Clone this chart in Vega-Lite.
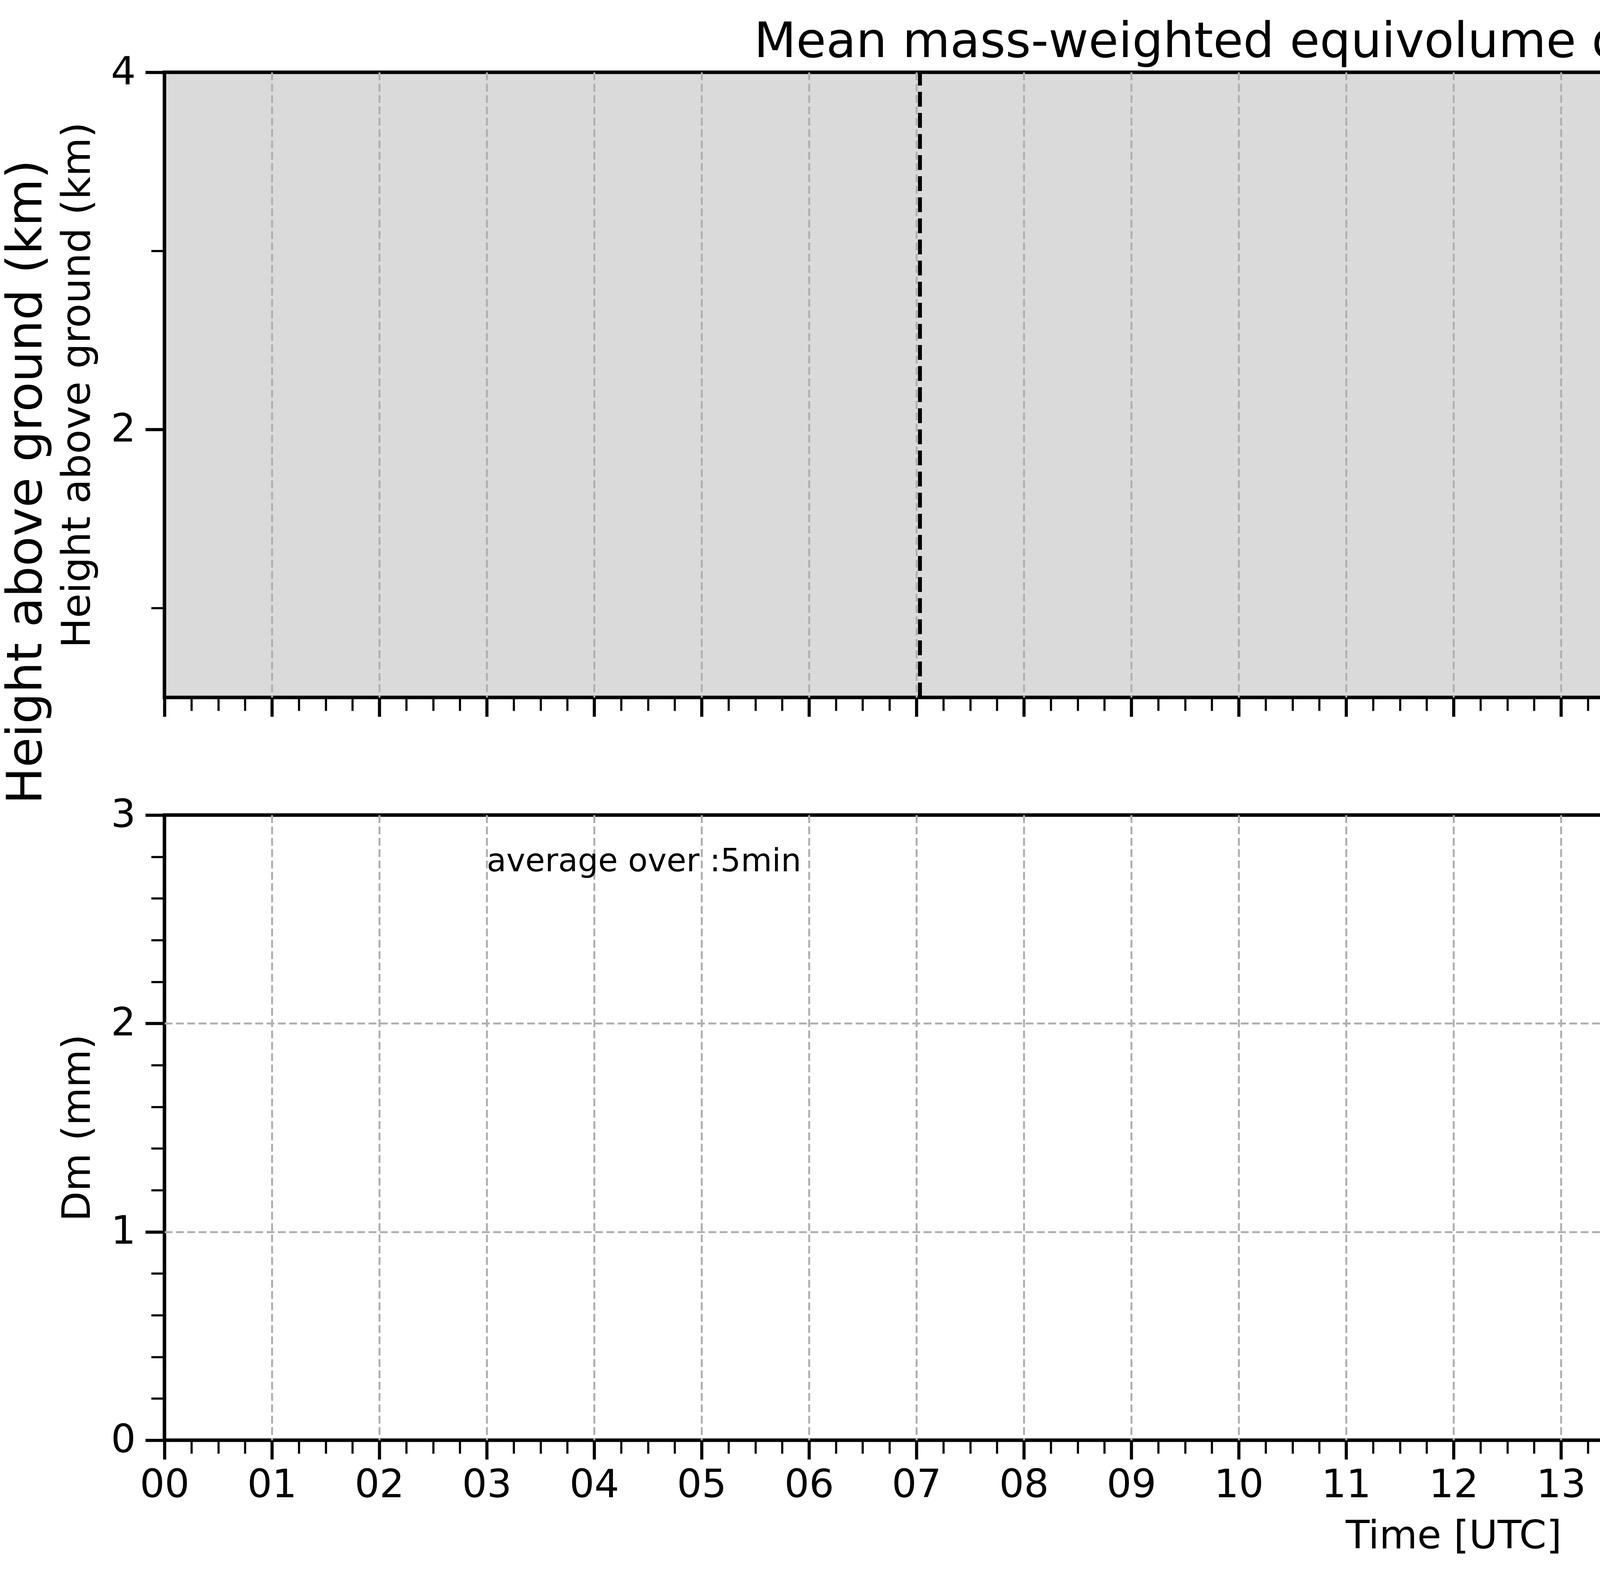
{
  "$schema": "https://vega.github.io/schema/vega-lite/v6.json",
  "background": "white",
  "padding": {"left": 0, "top": 40, "right": 53, "bottom": 54},
  "config": {
    "font": "DejaVu Sans",
    "axis": {
      "domain": false,
      "tickColor": "black",
      "labelColor": "black",
      "titleColor": "black",
      "labelFont": "DejaVu Sans",
      "titleFont": "DejaVu Sans",
      "titleFontWeight": "normal",
      "labelFontSize": 100,
      "titleFontSize": 100,
      "gridColor": "#b0b0b0",
      "gridWidth": 5,
      "gridDash": [20, 9],
      "labelOverlap": false,
      "labelFlush": false,
      "labelBound": false
    }
  },
  "bounds": "flush",
  "spacing": 1901,
  "vconcat": [
    {
      "bounds": "flush",
      "spacing": 74,
      "hconcat": [
        {
          "width": 6600,
          "height": 1600,
          "view": {"fill": "#dadada", "stroke": "black", "strokeWidth": 9},
          "data": {"values": [{"time": 7.033}, {"time": 15.6}]},
          "resolve": {"scale": {"x": "independent", "y": "independent"}},
          "layer": [
            {
              "mark": {"type": "rule", "color": "black", "strokeWidth": 10, "strokeDash": [38, 16]},
              "encoding": {
                "x": {
                  "field": "time",
                  "type": "quantitative",
                  "scale": {"domain": [0, 24], "nice": false, "zero": false},
                  "axis": {
                    "orient": "bottom",
                    "title": null,
                    "labels": false,
                    "values": [0,0.25,0.5,0.75,1,1.25,1.5,1.75,2,2.25,2.5,2.75,3,3.25,3.5,3.75,4,4.25,4.5,4.75,5,5.25,5.5,5.75,6,6.25,6.5,6.75,7,7.25,7.5,7.75,8,8.25,8.5,8.75,9,9.25,9.5,9.75,10,10.25,10.5,10.75,11,11.25,11.5,11.75,12,12.25,12.5,12.75,13,13.25,13.5,13.75,14,14.25,14.5,14.75,15,15.25,15.5,15.75,16,16.25,16.5,16.75,17,17.25,17.5,17.75,18,18.25,18.5,18.75,19,19.25,19.5,19.75,20,20.25,20.5,20.75,21,21.25,21.5,21.75,22,22.25,22.5,22.75,23,23.25,23.5,23.75,24],
                    "tickSize": {"condition": {"test": "datum.value % 1 === 0 && datum.value < 24", "value": 49}, "value": 34},
                    "tickWidth": {"condition": {"test": "datum.value % 1 === 0 && datum.value < 24", "value": 8}, "value": 5.5},
                    "gridOpacity": {"condition": {"test": "datum.value % 1 === 0 && datum.value > 0 && datum.value < 24", "value": 1}, "value": 0}
                  }
                },
                "y": {
                  "datum": 0.5,
                  "type": "quantitative",
                  "scale": {"domain": [0.5, 4], "nice": false, "zero": false},
                  "axis": {
                    "orient": "left",
                    "title": "Height above ground (km)",
                    "titleFontSize": 102,
                    "titleAngle": 270,
                    "titleBaseline": "alphabetic",
                    "titleX": -192,
                    "titleY": 800,
                    "values": [1, 2, 3, 4],
                    "labelExpr": "datum.value % 2 === 0 ? datum.label : ''",
                    "labelPadding": 25,
                    "tickSize": {"condition": {"test": "datum.value % 2 === 0", "value": 49}, "value": 34},
                    "tickWidth": {"condition": {"test": "datum.value % 2 === 0", "value": 8}, "value": 5.5},
                    "gridOpacity": {"condition": {"test": "datum.value === 2", "value": 1}, "value": 0}
                  }
                },
                "y2": {"datum": 4}
              }
            },
            {
              "mark": {"type": "rule", "opacity": 0},
              "encoding": {
                "x": {
                  "field": "time",
                  "type": "quantitative",
                  "scale": {"domain": [0, 24], "nice": false, "zero": false},
                  "axis": {
                    "orient": "top",
                    "title": "Mean mass-weighted equivolume diameter on 20250106",
                    "titleFontSize": 125,
                    "titleBaseline": "alphabetic",
                    "titleY": -40,
                    "labels": false,
                    "ticks": false,
                    "grid": false
                  }
                },
                "y": {
                  "datum": 0.5,
                  "type": "quantitative",
                  "scale": {"domain": [0.5, 4], "nice": false, "zero": false},
                  "axis": {
                    "orient": "left",
                    "title": "Height above ground (km)",
                    "titleFontSize": 125,
                    "titleAngle": 270,
                    "titleBaseline": "alphabetic",
                    "titleX": -316,
                    "titleY": 1048,
                    "labels": false,
                    "ticks": false,
                    "grid": false
                  }
                },
                "y2": {"datum": 4}
              }
            }
          ]
        },
        {
          "width": 113,
          "height": 1600,
          "view": {"stroke": null},
          "data": {"values": [{"dm": 0, "dm_end": 2}]},
          "mark": {
            "type": "rect",
            "stroke": "black",
            "strokeWidth": 5,
            "fill": {
              "gradient": "linear",
              "x1": 0, "y1": 1, "x2": 0, "y2": 0,
              "stops": [
                {"offset": 0, "color": "#000080"},
                {"offset": 0.11, "color": "#0000ff"},
                {"offset": 0.125, "color": "#0000ff"},
                {"offset": 0.34, "color": "#00dbff"},
                {"offset": 0.35, "color": "#00e6f7"},
                {"offset": 0.375, "color": "#15ffe2"},
                {"offset": 0.64, "color": "#eeff08"},
                {"offset": 0.65, "color": "#f7f500"},
                {"offset": 0.66, "color": "#ffec00"},
                {"offset": 0.89, "color": "#ff1300"},
                {"offset": 0.91, "color": "#e80000"},
                {"offset": 1, "color": "#800000"}
              ]
            }
          },
          "encoding": {
            "y": {
              "field": "dm",
              "type": "quantitative",
              "scale": {"domain": [0, 2], "nice": false, "zero": false},
              "axis": {
                "orient": "right",
                "values": [0, 0.4, 0.8, 1.2, 1.6, 2.0],
                "format": ".1f",
                "labelFontSize": 80,
                "labelPadding": 25,
                "tickSize": 20,
                "tickWidth": 5,
                "grid": false,
                "title": "Dm (mm)",
                "titleFontSize": 82,
                "titleAngle": 270,
                "titleBaseline": "alphabetic",
                "titleX": 267,
                "titleY": 800
              }
            },
            "y2": {"field": "dm_end"}
          }
        }
      ]
    },
    {
      "width": 6600,
      "height": 1600,
      "view": {"fill": "white", "stroke": "black", "strokeWidth": 9},
      "data": {"values": [{"time": 3, "dm": 2.73, "note": "average over :5min"}]},
      "mark": {"type": "text", "align": "left", "baseline": "alphabetic", "fontSize": 82, "color": "black"},
      "encoding": {
        "x": {
          "field": "time",
          "type": "quantitative",
          "scale": {"domain": [0, 24], "nice": false, "zero": false},
          "axis": {
            "orient": "bottom",
            "title": "Time [UTC]",
            "titleBaseline": "alphabetic",
            "titleY": 276,
            "values": [0,0.25,0.5,0.75,1,1.25,1.5,1.75,2,2.25,2.5,2.75,3,3.25,3.5,3.75,4,4.25,4.5,4.75,5,5.25,5.5,5.75,6,6.25,6.5,6.75,7,7.25,7.5,7.75,8,8.25,8.5,8.75,9,9.25,9.5,9.75,10,10.25,10.5,10.75,11,11.25,11.5,11.75,12,12.25,12.5,12.75,13,13.25,13.5,13.75,14,14.25,14.5,14.75,15,15.25,15.5,15.75,16,16.25,16.5,16.75,17,17.25,17.5,17.75,18,18.25,18.5,18.75,19,19.25,19.5,19.75,20,20.25,20.5,20.75,21,21.25,21.5,21.75,22,22.25,22.5,22.75,23,23.25,23.5,23.75,24],
            "labelExpr": "datum.value % 1 === 0 && datum.value < 24 ? (datum.value < 10 ? '0' + datum.value : '' + datum.value) : ''",
            "labelPadding": 17,
            "tickSize": {"condition": {"test": "datum.value % 1 === 0 && datum.value < 24", "value": 49}, "value": 34},
            "tickWidth": {"condition": {"test": "datum.value % 1 === 0 && datum.value < 24", "value": 8}, "value": 5.5},
            "gridOpacity": {"condition": {"test": "datum.value % 1 === 0 && datum.value > 0 && datum.value < 24", "value": 1}, "value": 0}
          }
        },
        "y": {
          "field": "dm",
          "type": "quantitative",
          "scale": {"domain": [0, 3], "nice": false, "zero": false},
          "axis": {
            "orient": "left",
            "title": "Dm (mm)",
            "titleAngle": 270,
            "titleBaseline": "alphabetic",
            "titleX": -192,
            "titleY": 800,
            "values": [0, 0.2, 0.4, 0.6, 0.8, 1, 1.2, 1.4, 1.6, 1.8, 2, 2.2, 2.4, 2.6, 2.8, 3],
            "labelExpr": "abs(datum.value - round(datum.value)) < 0.001 ? format(datum.value, 'd') : ''",
            "labelPadding": 25,
            "tickSize": {"condition": {"test": "abs(datum.value - round(datum.value)) < 0.001", "value": 49}, "value": 34},
            "tickWidth": {"condition": {"test": "abs(datum.value - round(datum.value)) < 0.001", "value": 8}, "value": 5.5},
            "gridOpacity": {"condition": {"test": "datum.value === 1 || datum.value === 2", "value": 1}, "value": 0}
          }
        },
        "text": {"field": "note", "type": "nominal"}
      }
    }
  ]
}
